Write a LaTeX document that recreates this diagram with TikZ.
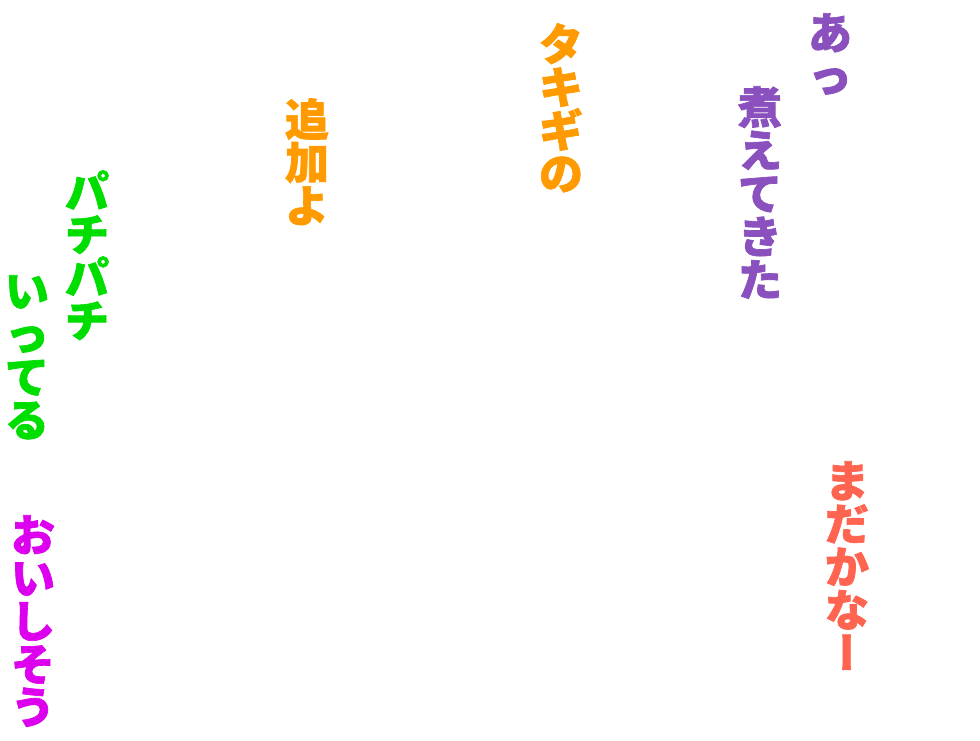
\documentclass[tikz,border=0pt]{standalone}
\usepackage{fontspec}
\usepackage{xcolor}
\newfontfamily\jpfont[BoldFeatures={FakeBold=1.5}]{Noto Sans CJK JP}
\definecolor{nipurple}{HTML}{8A50BE}
\definecolor{takiorange}{HTML}{FF9A00}
\definecolor{pachigreen}{HTML}{00DD00}
\definecolor{madacoral}{HTML}{FF6450}
\definecolor{oishimagenta}{HTML}{DD00EE}
\tikzset{
  tatetext/.style={anchor=north, inner sep=0pt, align=center,
    font=\jpfont\bfseries\fontsize{33}{32.3}\selectfont}
}
\newcommand{\chobar}{{\addfontfeature{RawFeature=+vert}ー}}

\begin{document}
\begin{tikzpicture}[x=0.75pt,y=-0.75pt]
\useasboundingbox (0,0) rectangle (980,740);
\node[tatetext, text=nipurple] (atsu) at (830,13) {あ\\っ};
\node[tatetext, text=nipurple] (nietekita) at (760,86) {煮\\え\\て\\き\\た};
\node[tatetext, text=takiorange] (takigino) at (561,23) {タ\\キ\\ギ\\の};
\node[tatetext, text=takiorange] (tsuikayo) at (307,98) {追\\加\\よ};
\node[tatetext, text=pachigreen] (pachipachi) at (87,170) {パ\\チ\\パ\\チ};
\node[tatetext, text=pachigreen] (ittteru) at (27,275) {い\\っ\\て\\る};
\node[tatetext, text=madacoral] (madakana) at (847,461) {ま\\だ\\か\\な\\\chobar};
\node[tatetext, text=oishimagenta] (oishisou) at (33,515) {お\\い\\し\\そ\\う};
\end{tikzpicture}
\end{document}
